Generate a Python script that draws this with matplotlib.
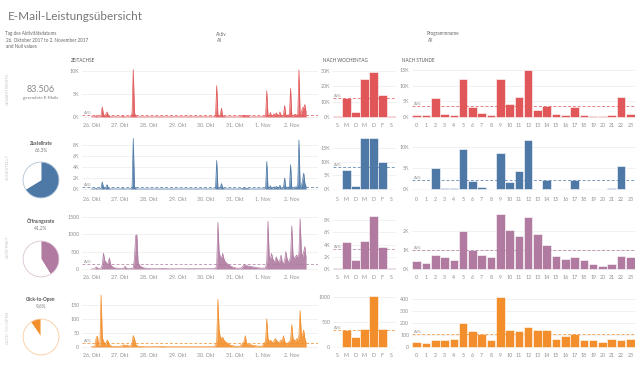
import matplotlib.pyplot as plt
import matplotlib.transforms as mtransforms
from matplotlib.ticker import FuncFormatter
import numpy as np

plt.rcParams['font.family'] = ['Lato', 'DejaVu Sans']

W, H = 640, 370

'''data'''
tage = ['26. Okt', '27. Okt', '28. Okt', '29. Okt', '30. Okt', '31. Okt', '1. Nov', '2. Nov']
wochentage = ['S', 'M', 'D', 'M', 'D', 'F', 'S']
stunden = ['0', '1', '2', '3', '4', '5', '6', '7', '8', '9', '10', '11',
           '12', '13', '14', '15', '16', '17', '18', '19', '20', '21', '22', '23']

gesendet_gesamt = '83.506'
zustellrate = 66.3
oeffnungsrate = 41.2
click_to_open = 9.6

# hourly timeline, one row per day (sent / delivered in thousands)
gesendet_zeit = [
    [0.05, 0.02, 0.02, 0.1, 0.3, 0.05, 0.02, 0.05, 0.4, 2.2, 0.5, 0.3, 0.6, 1.1, 0.4, 0.1, 0.05, 0.05, 0.02, 0.02, 0.05, 0.02, 0.02, 0.02],
    [0.02, 0.02, 0.3, 0.05, 0.02, 0.02, 0.02, 0.02, 0.05, 0.3, 0.8, 10.3, 0.9, 0.2, 0.05, 0.02, 0.02, 0.02, 0.02, 0.02, 0.02, 0.02, 0.02, 0.02],
    [0.02, 0.02, 0.02, 0.02, 0.02, 0.02, 0.02, 0.03, 0.03, 0.04, 0.03, 0.03, 0.03, 0.02, 0.02, 0.02, 0.02, 0.02, 0.02, 0.02, 0.02, 0.02, 0.02, 0.02],
    [0.02, 0.02, 0.02, 0.02, 0.02, 0.02, 0.02, 0.02, 0.03, 0.03, 0.03, 0.03, 0.02, 0.02, 0.02, 0.02, 0.02, 0.02, 0.02, 0.02, 0.02, 0.02, 0.02, 0.02],
    [0.02, 0.02, 0.02, 0.02, 0.02, 0.02, 0.03, 0.05, 0.1, 6.8, 0.5, 0.2, 0.4, 1.9, 0.3, 0.1, 0.05, 0.05, 0.03, 0.02, 0.02, 0.02, 0.02, 0.02],
    [0.02, 0.02, 0.02, 0.02, 0.02, 0.02, 0.3, 0.3, 0.35, 0.3, 0.3, 0.3, 0.05, 0.02, 0.02, 0.02, 0.02, 0.02, 0.02, 0.02, 0.02, 0.02, 0.02, 0.02],
    [0.05, 0.05, 0.1, 5.7, 0.4, 0.1, 1.0, 0.3, 0.2, 0.7, 0.4, 0.9, 0.5, 0.2, 1.1, 0.4, 0.2, 0.3, 2.5, 0.4, 0.3, 0.5, 0.3, 6.2],
    [0.3, 0.2, 0.5, 0.6, 0.4, 0.3, 10.2, 0.4, 1.0, 2.0, 2.0, 2.7, 1.0],
]
zugestellt_zeit = [
    [0.01, 0.01, 0.01, 0.05, 0.1, 0.02, 0.01, 0.02, 0.2, 1.3, 0.3, 0.2, 0.3, 0.8, 0.2, 0.05, 0.02, 0.02, 0.01, 0.01, 0.02, 0.01, 0.01, 0.01],
    [0.01, 0.01, 0.1, 0.02, 0.01, 0.01, 0.01, 0.01, 0.02, 0.1, 0.4, 9.2, 0.5, 0.1, 0.02, 0.01, 0.01, 0.01, 0.01, 0.01, 0.01, 0.01, 0.01, 0.01],
    [0.01, 0.01, 0.01, 0.01, 0.01, 0.01, 0.01, 0.01, 0.02, 0.02, 0.02, 0.02, 0.01, 0.01, 0.01, 0.01, 0.01, 0.01, 0.01, 0.01, 0.01, 0.01, 0.01, 0.01],
    [0.01, 0.01, 0.01, 0.01, 0.01, 0.01, 0.01, 0.01, 0.01, 0.01, 0.01, 0.01, 0.01, 0.01, 0.01, 0.01, 0.01, 0.01, 0.01, 0.01, 0.01, 0.01, 0.01, 0.01],
    [0.01, 0.01, 0.01, 0.01, 0.01, 0.01, 0.01, 0.02, 0.05, 5.2, 0.3, 0.1, 0.2, 1.0, 0.2, 0.05, 0.02, 0.02, 0.01, 0.01, 0.01, 0.01, 0.01, 0.01],
    [0.01, 0.01, 0.01, 0.01, 0.01, 0.01, 0.1, 0.1, 0.12, 0.1, 0.1, 0.1, 0.02, 0.01, 0.01, 0.01, 0.01, 0.01, 0.01, 0.01, 0.01, 0.01, 0.01, 0.01],
    [0.03, 0.03, 0.05, 5.0, 0.3, 0.05, 0.6, 0.2, 0.1, 0.4, 0.2, 0.5, 0.3, 0.1, 0.7, 0.2, 0.1, 0.2, 2.0, 0.3, 0.2, 0.4, 0.2, 4.4],
    [0.2, 0.1, 0.3, 0.4, 0.3, 0.8, 8.9, 0.3, 0.6, 1.5, 2.9, 1.0, 0.5],
]
geoeffnet_zeit = [
    [0, 0, 0, 20, 60, 30, 10, 15, 30, 120, 460, 250, 200, 150, 180, 320, 120, 80, 50, 40, 30, 25, 20, 15],
    [12, 10, 10, 15, 80, 30, 15, 10, 10, 15, 20, 40, 300, 960, 990, 200, 120, 80, 60, 40, 30, 25, 20, 15],
    [12, 10, 8, 6, 5, 5, 5, 6, 8, 10, 10, 10, 10, 10, 8, 8, 6, 6, 5, 5, 4, 4, 3, 3],
    [3, 3, 2, 2, 2, 2, 2, 3, 4, 5, 5, 5, 5, 5, 5, 4, 4, 4, 3, 3, 3, 3, 3, 3],
    [3, 3, 3, 3, 3, 4, 5, 8, 15, 100, 1340, 500, 350, 300, 450, 300, 220, 180, 150, 120, 100, 80, 60, 50],
    [40, 30, 25, 20, 20, 25, 40, 80, 120, 110, 100, 90, 80, 80, 70, 60, 60, 50, 40, 40, 30, 30, 25, 20],
    [30, 25, 30, 200, 1380, 400, 250, 450, 300, 200, 250, 350, 250, 200, 250, 400, 200, 150, 250, 500, 300, 200, 250, 350],
    [1250, 400, 300, 350, 400, 350, 450, 1450, 500, 350, 500, 650, 300],
]
klicks_zeit = [
    [2, 2, 2, 5, 35, 38, 5, 5, 185, 35, 20, 15, 10, 25, 20, 8, 5, 3, 2, 2, 2, 2, 2, 2],
    [3, 2, 6, 8, 5, 6, 7, 4, 3, 5, 15, 41, 30, 10, 5, 3, 2, 2, 2, 2, 1, 1, 1, 1],
    [1, 1, 1, 1, 1, 1, 1, 1, 1, 2, 2, 2, 2, 2, 1, 1, 1, 1, 1, 1, 1, 1, 1, 1],
    [1, 1, 1, 1, 1, 1, 1, 1, 1, 1, 1, 1, 1, 1, 1, 1, 1, 1, 1, 1, 1, 1, 1, 1],
    [1, 1, 1, 1, 1, 1, 1, 2, 5, 20, 170, 60, 35, 30, 35, 25, 20, 15, 15, 10, 8, 6, 5, 4],
    [3, 3, 2, 2, 2, 5, 10, 15, 20, 40, 15, 10, 10, 8, 8, 6, 5, 5, 4, 3, 3, 3, 2, 2],
    [10, 15, 20, 100, 30, 20, 25, 20, 15, 20, 30, 25, 20, 15, 20, 25, 20, 40, 20, 15, 10, 15, 20, 25],
    [80, 30, 25, 20, 30, 25, 40, 130, 40, 45, 60, 30, 15],
]

# by weekday (K, clicks as counts)
gesendet_wt = [0.3, 12.5, 3.0, 24.5, 29.5, 14.5, 0.3]
zugestellt_wt = [0.05, 6.8, 1.0, 18.7, 18.6, 10.0, 0.05]
geoeffnet_wt = [0.15, 4.4, 1.4, 4.6, 8.6, 3.6, 0.15]
klicks_wt = [10, 350, 200, 370, 1020, 370, 10]

# by hour
gesendet_h = [0.5, 0.5, 6.2, 0.9, 0.7, 12.1, 3.2, 1.3, 0.7, 12.2, 4.2, 6.3, 15.1, 2.3, 3.6, 0.9, 0.6, 3.3, 0.5, 0.3, 0.3, 0.6, 6.4, 0.8]
zugestellt_h = [0, 0, 5.1, 0.2, 0.15, 9.6, 1.9, 0.4, 0.1, 8.6, 1.7, 4.2, 11.6, 0.1, 2.2, 0.1, 0.1, 2.2, 0, 0, 0, 0.3, 5.5, 0]
geoeffnet_h = [0.44, 0.31, 0.76, 0.64, 0.49, 1.98, 1.0, 0.76, 0.62, 2.9, 2.07, 1.73, 2.73, 1.85, 1.24, 0.71, 0.53, 0.64, 0.47, 0.27, 0.16, 0.27, 0.67, 0.64]
klicks_h = [45, 30, 55, 55, 70, 200, 130, 110, 60, 420, 140, 130, 170, 140, 140, 70, 90, 110, 60, 55, 40, 70, 60, 70]

farben = ['#e15759', '#4e79a7', '#b07aa1', '#f28e2b']
zeilen_namen = ['GESAMTWERTE', 'ZUGESTELLT', 'GEÖFFNET', 'CLICK-TO-OPEN']

fig = plt.figure(figsize=(6.4, 3.7), dpi=100)


def px_axes(x0, y0, x1, y1):
    return fig.add_axes([x0 / W, 1 - y1 / H, (x1 - x0) / W, (y1 - y0) / H])


def ftext(x, y, s, **kw):
    fig.text(x / W, 1 - y / H, s, **kw)


def k_fmt(v, pos):
    return '%gK' % v


def n_fmt(v, pos):
    return '%g' % v


def style(ax, yticks, fmt):
    ax.set_yticks(yticks)
    ax.yaxis.set_major_formatter(FuncFormatter(fmt))
    ax.grid(axis='y', color='#ececec', lw=0.5)
    ax.set_axisbelow(True)
    for s in ax.spines.values():
        s.set_visible(False)
    ax.tick_params(length=0, labelsize=3.8, colors='#8f8f8f', pad=2)


def avg_line(ax, val, c):
    ax.axhline(val, color=c, ls=(0, (3, 2)), lw=0.7, alpha=0.75, zorder=4)
    tr = mtransforms.blended_transform_factory(ax.transAxes, ax.transData)
    ax.text(0.008, val, 'AVG', transform=tr, fontsize=2.6, color='#8f8f8f',
            va='bottom', ha='left')


# header
ftext(8, 17, 'E-Mail-Leistungsübersicht', fontsize=8.5, color='#777777', va='center')
ftext(5, 34, 'Tag des Aktivitätsdatums', fontsize=3.3, color='#666666', va='center')
ftext(6, 41, '26. Oktober 2017 to 2. November 2017', fontsize=3.3, color='#666666', va='center')
ftext(6, 46.5, 'and Null values', fontsize=3.3, color='#666666', va='center')
ftext(216, 34, 'Aktiv', fontsize=3.3, color='#666666', va='center')
ftext(217, 41, 'All', fontsize=3.3, color='#666666', va='center')
ftext(427, 34, 'Programmname', fontsize=3.3, color='#666666', va='center')
ftext(428, 41, 'All', fontsize=3.3, color='#666666', va='center')
ftext(71, 60, 'ZEITACHSE', fontsize=3.3, color='#555555', va='center')
ftext(323, 60, 'NACH WOCHENTAG', fontsize=3.3, color='#555555', va='center')
ftext(402, 60, 'NACH STUNDE', fontsize=3.3, color='#555555', va='center')

zeit_series = [gesendet_zeit, zugestellt_zeit, geoeffnet_zeit, klicks_zeit]
wt_series = [gesendet_wt, zugestellt_wt, geoeffnet_wt, klicks_wt]
h_series = [gesendet_h, zugestellt_h, geoeffnet_h, klicks_h]

# layout per row: (top, bottom), label y, ylims and ticks for time/weekday/hour
rows = [
    dict(y=(64, 120), lab=89, zl=(-0.65, 11.5), zt=[0, 5, 10], zf=k_fmt,
         wl=(-2, 34.6), wt=[0, 10, 20, 30], wf=k_fmt,
         hl=(-0.96, 16.9), ht=[0, 5, 10, 15], hf=k_fmt),
    dict(y=(137, 194), lab=167, zl=(-0.9, 9.45), zt=[0, 2, 4, 6, 8], zf=k_fmt,
         wl=(-1.9, 19.1), wt=[0, 5, 10, 15], wf=k_fmt,
         hl=(-1.2, 12.4), ht=[0, 5, 10], hf=k_fmt),
    dict(y=(214, 272), lab=247, zl=(-87, 1586), zt=[0, 500, 1000, 1500], zf=n_fmt,
         wl=(-0.49, 9.0), wt=[0, 2, 4, 6, 8], wf=k_fmt,
         hl=(-0.16, 2.9), ht=[0, 1, 2], hf=k_fmt),
    dict(y=(292, 350), lab=327, zl=(-10.7, 196), zt=[0, 50, 100, 150], zf=n_fmt,
         wl=(-60, 1100), wt=[0, 500, 1000], wf=n_fmt,
         hl=(-25, 458), ht=[0, 100, 200, 300, 400], hf=n_fmt),
]

for i, r in enumerate(rows):
    c = farben[i]
    y0, y1 = r['y']

    # timeline
    werte = np.concatenate([np.array(d, dtype=float) for d in zeit_series[i]])
    x = np.arange(len(werte))
    ax = px_axes(82, y0, 318, y1)
    ax.fill_between(x, 0, werte, color=c, alpha=0.9, lw=0)
    ax.plot(x, werte, color=c, lw=0.5)
    ax.set_xlim(-8, 190)
    ax.set_ylim(*r['zl'])
    style(ax, r['zt'], r['zf'])
    ax.set_xticks(np.arange(len(tage)) * 24)
    ax.set_xticklabels(tage)
    avg_line(ax, werte.mean(), c)

    # weekday
    ax = px_axes(333, y0, 396, y1)
    ax.bar(range(7), wt_series[i], width=0.92, color=c, edgecolor='white', lw=0.4)
    ax.set_xlim(-0.5, 6.5)
    ax.set_ylim(*r['wl'])
    style(ax, r['wt'], r['wf'])
    ax.set_xticks(range(7))
    ax.set_xticklabels(wochentage)
    avg_line(ax, np.mean(wt_series[i]), c)

    # hour
    ax = px_axes(412, y0, 635, y1)
    ax.bar(range(24), h_series[i], width=0.92, color=c, edgecolor='white', lw=0.4)
    ax.set_xlim(-0.5, 23.5)
    ax.set_ylim(*r['hl'])
    style(ax, r['ht'], r['hf'])
    ax.set_xticks(range(24))
    ax.set_xticklabels(stunden)
    avg_line(ax, np.mean(h_series[i]), c)

    # row label
    ftext(8, r['lab'], zeilen_namen[i], fontsize=3.2, color='#c8c8c8',
          rotation=90, ha='center', va='center')

# totals block
ftext(41, 89, gesendet_gesamt, fontsize=6.5, color='#8a8a8a', ha='center', va='center')
ftext(41, 97.5, 'gesendete E-Mails', fontsize=3.2, color='#777777', ha='center', va='center')

pies = [
    ('Zustellrate', zustellrate, 180, 143, False),
    ('Öffnungsrate', oeffnungsrate, 259, 221, False),
    ('Click-to-Open', click_to_open, 337, 299.5, True),
]
for j, (name, pct, cy, ty, ccw) in enumerate(pies):
    c = farben[j + 1]
    ftext(41, ty, name, fontsize=3.4, color='#555555', fontweight='bold', ha='center', va='center')
    ftext(41, ty + 6.5, ('%.1f%%' % pct).replace('.', ','), fontsize=3.4, color='#777777',
          ha='center', va='center')
    ax = px_axes(41 - 19, cy - 19, 41 + 19, cy + 19)
    ax.pie([pct, 100 - pct], colors=[c, 'white'], startangle=90, counterclock=ccw,
           wedgeprops=dict(edgecolor='white', linewidth=0.4))
    ax.add_patch(plt.Circle((0, 0), 1, fill=False, edgecolor=c, alpha=0.45, lw=0.6))
    ax.set_xlim(-1.06, 1.06)
    ax.set_ylim(-1.06, 1.06)
    ax.set_aspect('equal')
    ax.axis('off')

fig.savefig('out.png', dpi=100)
